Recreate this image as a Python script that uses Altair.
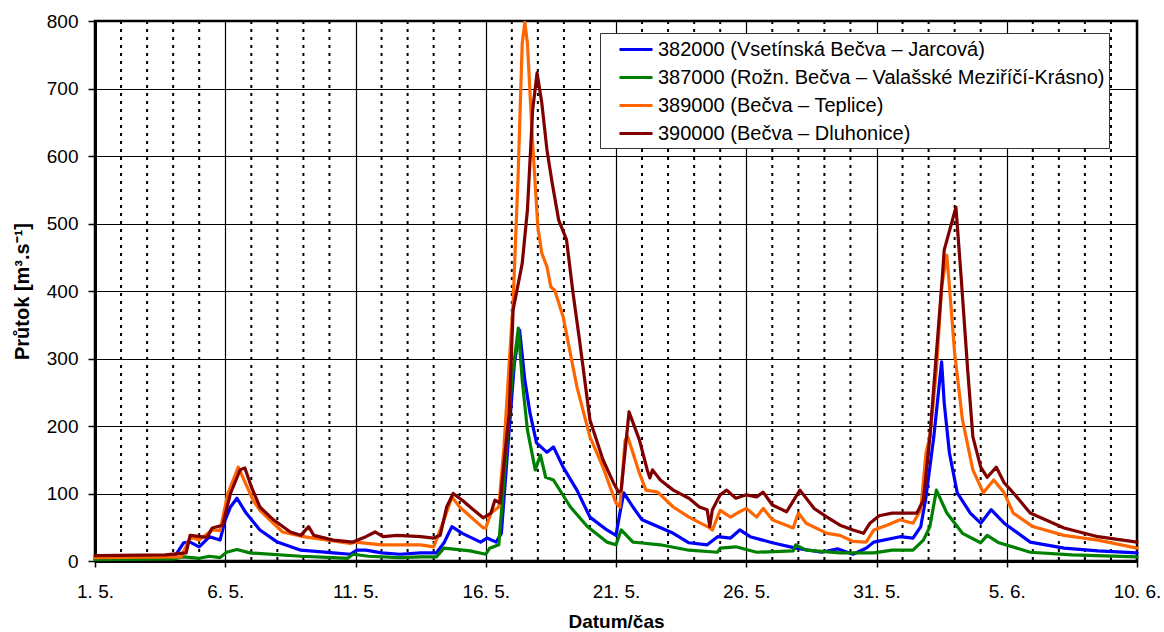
import json
import altair as alt
import pandas as pd

# ---- data (day index: 0 = 1. 5., 40 = 10. 6.) ----
names = [
    "382000 (Vsetínská Bečva – Jarcová)",
    "387000 (Rožn. Bečva – Valašské Meziříčí-Krásno)",
    "389000 (Bečva – Teplice)",
    "390000 (Bečva – Dluhonice)",
]
colors = ["#0000FF", "#008000", "#FF6600", "#800000"]

blue_day = [0, 2.0, 3.0, 3.1, 3.4, 3.65, 4.0, 4.4, 4.8, 5.0, 5.2, 5.45, 5.8, 6.33, 7.0, 7.9, 9.15, 9.8,
            10.05, 10.4, 11.0, 11.7, 12.5, 13.1, 13.4, 13.7, 14.1, 14.8, 15.05, 15.4, 15.6, 15.85, 16.1,
            16.3, 16.5, 16.7, 16.95, 17.35, 17.6, 17.97, 18.5, 19.0, 19.65, 20.0, 20.15, 20.3, 20.65, 21.0,
            21.6, 22.2, 22.8, 23.5, 23.9, 24.4, 24.75, 25.15, 26.0, 26.9, 27.9, 28.5, 29.1, 29.6, 29.9,
            30.9, 31.4, 31.7, 31.9, 32.2, 32.5, 32.6, 32.8, 33.1, 33.6, 34.0, 34.4, 34.9, 35.9, 37.2,
            38.5, 40]
blue_q = [4, 5, 6, 9, 27, 28, 21, 36, 31, 61, 80, 93, 71, 46, 28, 16, 12, 10,
          16, 16, 12, 10, 12, 12, 27, 51, 41, 28, 34, 28, 41, 169, 293,
          342, 268, 219, 175, 161, 169, 139, 105, 65, 46, 38, 71, 101, 80, 61,
          51, 41, 27, 24, 36, 34, 46, 36, 27, 19, 13, 18, 10, 19, 28,
          36, 34, 51, 95, 184, 295, 234, 160, 101, 71, 56, 76, 56, 28, 19,
          15, 12]

green_day = [0, 3.0, 3.4, 4.0, 4.4, 4.8, 5.05, 5.45, 5.95, 7.9, 9.15, 9.7, 9.9, 10.5, 11.7, 12.5, 13.1,
             13.4, 14.4, 15.0, 15.15, 15.5, 15.7, 16.0, 16.25, 16.4, 16.6, 16.9, 17.1, 17.3, 17.6, 18.25,
             18.9, 19.65, 20.0, 20.2, 20.65, 20.9, 21.7, 22.8, 23.9, 24.0, 24.6, 25.4, 26.8, 26.9, 27.3,
             28.6, 29.9, 30.6, 31.4, 31.8, 32.05, 32.3, 32.7, 33.3, 34.0, 34.25, 34.7, 35.9, 37.5, 40]
green_q = [2, 3, 6, 4, 7, 5, 13, 17, 12, 7, 5, 4, 10, 7, 5, 6, 6,
           19, 15, 10, 19, 24, 120, 268, 345, 268, 194, 135, 157, 124, 120, 80,
           51, 28, 24, 46, 28, 27, 24, 16, 13, 19, 21, 13, 15, 24, 16,
           12, 12, 16, 16, 31, 51, 105, 71, 41, 27, 38, 27, 13, 9, 6]

orange_day = [0, 3.3, 3.6, 3.7, 4.0, 4.5, 4.8, 5.1, 5.5, 6.07, 6.33, 7.2, 8.0, 9.8, 10.0, 11.0, 12.5,
              13.0, 13.4, 13.7, 14.0, 14.9, 15.0, 15.2, 15.5, 15.7, 15.9, 16.05, 16.24, 16.4, 16.5, 16.6,
              16.8, 17.0, 17.15, 17.35, 17.5, 17.65, 17.97, 18.5, 19.0, 19.5, 20.0, 20.15, 20.35, 20.45,
              20.9, 21.15, 21.6, 22.2, 22.8, 23.6, 23.7, 24.0, 24.4, 24.75, 25.0, 25.4, 25.65, 26.0, 26.8,
              27.0, 27.3, 28.1, 28.6, 29.1, 29.6, 29.9, 30.4, 30.9, 31.4, 31.7, 31.9, 32.05, 32.3, 32.5,
              32.7, 32.8, 33.0, 33.3, 33.7, 34.1, 34.5, 34.9, 35.25, 36.0, 37.2, 38.5, 40]
orange_q = [5, 6, 30, 35, 31, 46, 45, 100, 139, 90, 75, 43, 36, 26, 28, 24, 24,
            21, 61, 95, 80, 49, 49, 71, 80, 169, 293, 382, 569, 767, 798, 767,
            619, 495, 456, 436, 406, 401, 362, 258, 184, 139, 86, 80, 179, 184,
            130, 105, 102, 80, 65, 49, 46, 75, 65, 73, 78, 65, 78, 61, 49,
            71, 56, 41, 38, 29, 28, 46, 53, 61, 56, 76, 160, 184, 283, 406,
            453, 406, 308, 209, 135, 101, 120, 101, 71, 51, 38, 31, 19]

brown_day = [0, 2.7, 3.5, 3.65, 4.3, 4.5, 4.9, 5.2, 5.57, 5.75, 6.0, 6.33, 6.85, 7.5, 7.9, 8.2, 8.4,
             9.15, 9.9, 10.4, 10.75, 11.06, 11.6, 12.5, 13.0, 13.25, 13.5, 13.75, 14.1, 14.4, 14.9, 15.2,
             15.35, 15.55, 15.7, 15.9, 16.05, 16.4, 16.6, 16.8, 16.97, 17.15, 17.35, 17.55, 17.8, 18.1,
             18.35, 18.6, 19.0, 19.5, 19.9, 20.1, 20.2, 20.5, 20.9, 21.2, 21.3, 21.4, 21.7, 22.2, 22.8,
             23.2, 23.5, 23.6, 23.7, 24.0, 24.25, 24.6, 25.0, 25.4, 25.65, 26.0, 26.55, 27.06, 27.6, 28.1,
             28.6, 29.1, 29.5, 29.75, 30.1, 30.6, 30.9, 31.55, 31.8, 32.05, 32.3, 32.5, 32.6, 33.05, 33.25,
             33.5, 33.7, 34.0, 34.25, 34.6, 34.9, 35.25, 35.9, 37.2, 38.5, 40]
brown_q = [8, 9, 12, 38, 35, 49, 53, 100, 135, 138, 110, 80, 61, 43, 38, 51, 38,
           31, 28, 36, 43, 36, 38, 36, 34, 38, 80, 100, 90, 80, 64, 71,
           90, 86, 145, 219, 372, 441, 520, 668, 723, 679, 609, 560, 505, 476,
           397, 327, 209, 150, 116, 102, 105, 221, 179, 135, 123, 135, 120, 105, 93,
           80, 76, 51, 76, 98, 105, 93, 98, 95, 102, 83, 73, 105, 78, 65,
           53, 46, 41, 56, 67, 71, 71, 71, 90, 184, 308, 406, 461, 524, 420,
           283, 184, 139, 124, 139, 116, 101, 71, 49, 36, 28]

x_labels = ["1. 5.", "6. 5.", "11. 5.", "16. 5.", "21. 5.", "26. 5.", "31. 5.", "5. 6.", "10. 6."]
major_days = [0, 5, 10, 15, 20, 25, 30, 35, 40]
minor_days = [d for d in range(1, 40) if d % 5 != 0]
y_ticks = [0, 100, 200, 300, 400, 500, 600, 700, 800]

# ---- tables ----
rows = []
for name, days, qs in zip(names, [blue_day, green_day, orange_day, brown_day],
                          [blue_q, green_q, orange_q, brown_q]):
    for i, (d, q) in enumerate(zip(days, qs)):
        rows.append({"series": name, "day": d, "q": q, "i": i})
df = pd.DataFrame(rows)
minor_df = pd.DataFrame({"day": minor_days})

FONT = "Liberation Sans"
xscale = alt.Scale(domain=[0, 40], nice=False, zero=False)
yscale = alt.Scale(domain=[0, 800], nice=False)

label_expr = json.dumps(x_labels) + "[round(datum.value / 5)]"

x_axis = alt.Axis(
    values=major_days, labelExpr=label_expr, title="Datum/čas",
    grid=True, gridColor="black", gridWidth=1.2,
    tickSize=6, tickWidth=1.5, tickColor="black",
    domainWidth=3, domainColor="black",
    labelPadding=15, labelBaseline="top", labelFontSize=19, labelFont=FONT,
    labelColor="black", labelFlush=False,
    titleFont=FONT, titleFontSize=19, titleFontWeight="bold", titleColor="black",
    titleBaseline="alphabetic", titleY=66,
)
y_axis = alt.Axis(
    values=y_ticks, title="Průtok [m³.s⁻¹]",
    grid=True, gridColor="black", gridWidth=1.2,
    tickSize=7, tickWidth=1.5, tickColor="black",
    domainWidth=3, domainColor="black",
    labelPadding=10, labelFontSize=19, labelFont=FONT, labelColor="black",
    titleFont=FONT, titleFontSize=20, titleFontWeight="bold", titleColor="black",
    titleAngle=270, titleX=-73, titleY=270, titleAlign="center", titleBaseline="middle",
)

minor = alt.Chart(minor_df).mark_rule(
    color="black", strokeWidth=2, strokeDash=[3, 5]
).encode(x=alt.X("day:Q", scale=xscale, axis=x_axis))

lines = alt.Chart(df).mark_line(strokeWidth=3.2, strokeJoin="round", strokeCap="round").encode(
    x=alt.X("day:Q", scale=xscale, axis=x_axis),
    y=alt.Y("q:Q", scale=yscale, axis=y_axis),
    color=alt.Color("series:N", scale=alt.Scale(domain=names, range=colors), legend=alt.Legend(
        title=None, orient="none", legendX=505, legendY=12, direction="vertical",
        symbolType="M-1.5,0L1.5,0", symbolStrokeWidth=3, symbolSize=484, symbolOffset=19.5,
        labelOffset=9.5, labelFontSize=20, labelFont=FONT, labelColor="black", labelLimit=700,
        rowPadding=5, padding=4, fillColor="white", strokeColor="#333333",
    )),
    order=alt.Order("i:Q"),
)

chart = alt.layer(minor, lines).properties(
    width=1042, height=540,
    autosize=alt.AutoSizeParams(type="none"),
    padding={"left": 95, "top": 21, "right": 27, "bottom": 71},
    background="white",
).configure_view(stroke="black", strokeWidth=2.5)

chart.save("out.html", embed_options={"renderer": "svg", "actions": False})
